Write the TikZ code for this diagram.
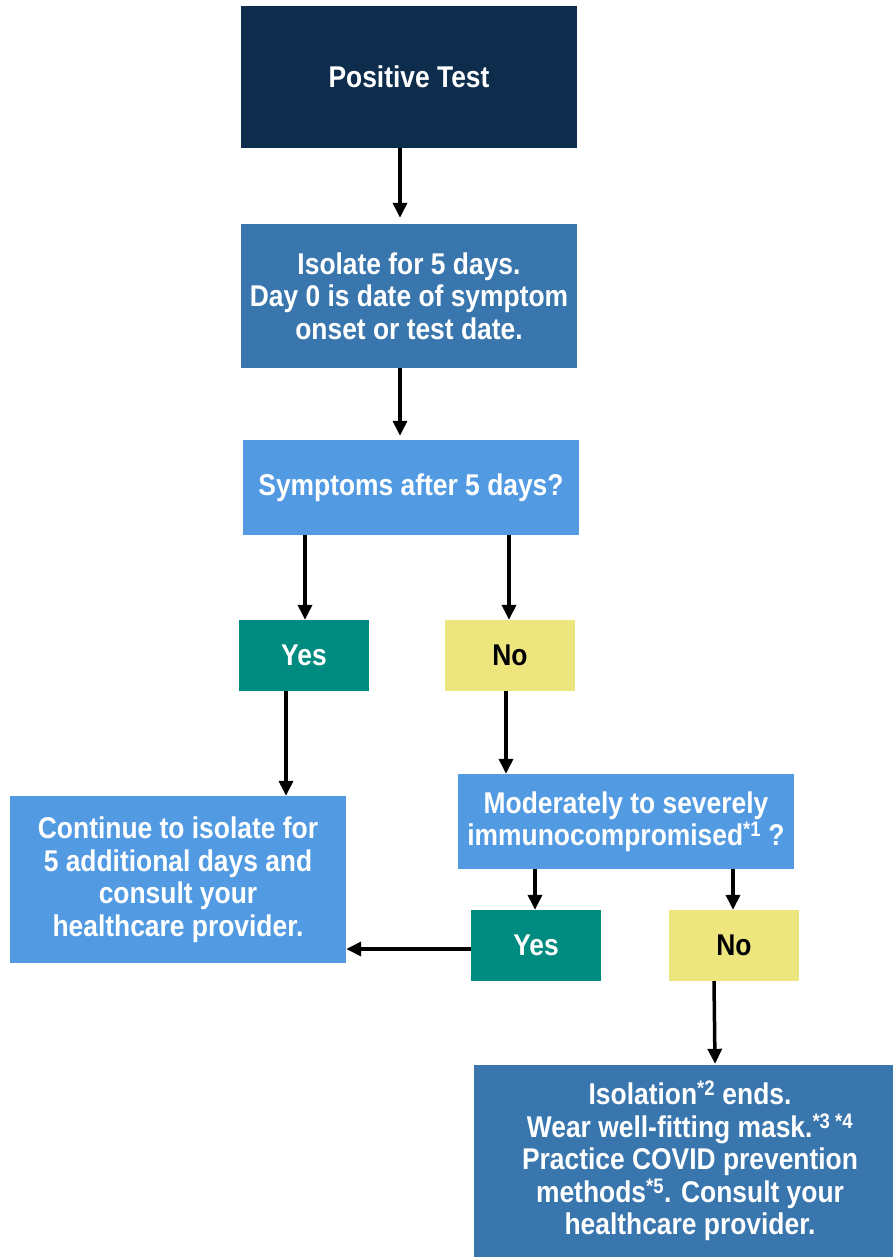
\documentclass[tikz,border=0pt]{standalone}
\usepackage{fontspec}
\setmainfont[FakeStretch=0.88]{Liberation Sans}
\usetikzlibrary{arrows.meta}
\definecolor{navy}{HTML}{0E2D4D}
\definecolor{midblue}{HTML}{3A76AE}
\definecolor{lightblue}{HTML}{529BE3}
\definecolor{tealc}{HTML}{008B80}
\definecolor{yellowc}{HTML}{EDE57E}
\begin{document}
\begin{tikzpicture}[x=1pt,y=-1pt,
  box/.style={rectangle, inner sep=0pt, align=center,
    font=\bfseries\fontsize{30}{32.5}\selectfont, text=white},
  bigbox/.style={box, minimum width=336pt},
  small/.style={box, minimum width=130pt, minimum height=71pt},
  yesbox/.style={small, fill=tealc},
  nobox/.style={small, fill=yellowc, text=black},
  arr/.style={-{Triangle[width=14pt,length=15pt]}, line width=3.5pt, black}]
\useasboundingbox (0,0) rectangle (893,1257);

\node[bigbox, fill=navy, minimum height=142pt] (pos) at (409,77) {Positive Test};
\node[bigbox, fill=midblue, minimum height=144pt] (iso) at (409,296)
  {Isolate for 5 days.\\Day 0 is date of symptom\\onset or test date.};
\node[bigbox, fill=lightblue, minimum height=95pt] (sym) at (411,487.5)
  {Symptoms after 5 days?};
\node[yesbox] (yes1) at (304,655.5) {Yes};
\node[nobox] (no1) at (510,655.5) {No};
\node[bigbox, fill=lightblue, minimum height=167pt] (cont) at (178,879.5)
  {Continue to isolate for\\5 additional days and\\consult your\\healthcare provider.};
\node[bigbox, fill=lightblue, minimum height=95pt] (mod) at (626,821.5)
  {Moderately to severely\\immunocompromised\textsuperscript{*1} ?};
\node[yesbox] (yes2) at (536,945.5) {Yes};
\node[nobox] (no2) at (734,945.5) {No};
\node[box, fill=midblue, minimum width=432pt, minimum height=192pt] (iso2) at (690,1161)
  {Isolation\textsuperscript{*2} ends.\\Wear well-fitting mask.\textsuperscript{*3 *4}\\Practice COVID prevention\\methods\textsuperscript{*5}. Consult your\\healthcare provider.};

\draw[arr] ([xshift=-9pt]pos.south) -- ([xshift=-9pt,yshift=6pt]iso.north);
\draw[arr] ([xshift=-9pt]iso.south) -- ([xshift=-11pt,yshift=4pt]sym.north);
\draw[arr] ([xshift=-106pt]sym.south) -- ([xshift=1pt]yes1.north);
\draw[arr] ([xshift=98pt]sym.south) -- ([xshift=-1pt]no1.north);
\draw[arr] ([xshift=-18pt]yes1.south) -- ([xshift=108pt]cont.north);
\draw[arr] ([xshift=-4pt]no1.south) -- ([xshift=-120pt]mod.north);
\draw[arr] ([xshift=-91pt]mod.south) -- ([xshift=-1pt]yes2.north);
\draw[arr] ([xshift=107pt]mod.south) -- ([xshift=-1pt]no2.north);
\draw[arr] ([xshift=-20pt]no2.south) -- ([xshift=25pt,yshift=1pt]iso2.north);
\draw[arr] ([yshift=-3.5pt]yes2.west) -- ([yshift=-3.5pt]yes2.west -| cont.east);
\end{tikzpicture}
\end{document}
